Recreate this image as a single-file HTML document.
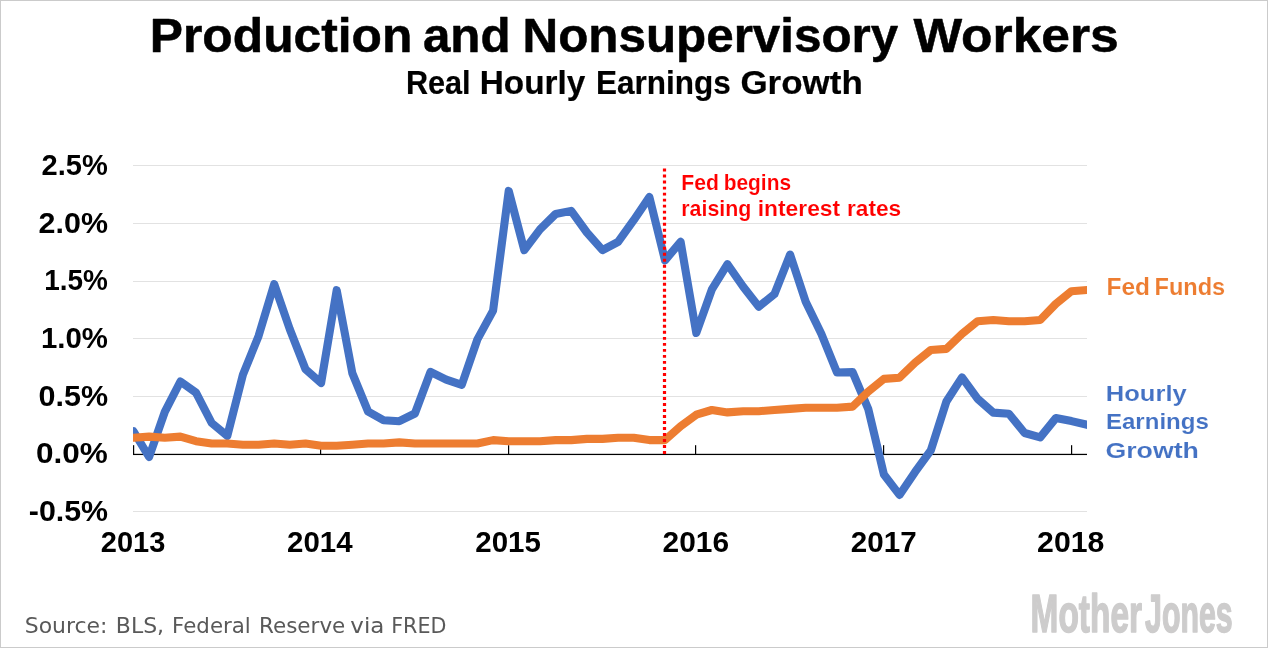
<!DOCTYPE html>
<html lang="en"><head><meta charset="utf-8"><title>Production and Nonsupervisory Workers</title>
<style>
html,body{margin:0;padding:0;background:#fff;}
body{width:1268px;height:648px;overflow:hidden;}
svg{display:block;font-family:"Liberation Sans",sans-serif;}
</style></head><body>
<svg width="1268" height="648" viewBox="0 0 1268 648">
<defs><clipPath id="plot"><rect x="133" y="150" width="954" height="380"/></clipPath></defs>
<rect x="0" y="0" width="1268" height="648" fill="#fff"/>
<rect x="0.5" y="0.5" width="1267" height="647" fill="none" stroke="#cbcbcb" stroke-width="1"/>
<rect x="133" y="165.00" width="954" height="1" fill="#e2e2e2"/><rect x="133" y="223.00" width="954" height="1" fill="#e2e2e2"/><rect x="133" y="281.00" width="954" height="1" fill="#e2e2e2"/><rect x="133" y="338.00" width="954" height="1" fill="#e2e2e2"/><rect x="133" y="396.00" width="954" height="1" fill="#e2e2e2"/><rect x="133" y="511.00" width="954" height="1" fill="#e2e2e2"/>
<rect x="133" y="453.8" width="954" height="1.25" fill="#000"/>
<rect x="133" y="445.2" width="1.2" height="9.5" fill="#000"/><rect x="320" y="445.2" width="1.2" height="9.5" fill="#000"/><rect x="508" y="445.2" width="1.2" height="9.5" fill="#000"/><rect x="695" y="445.2" width="1.2" height="9.5" fill="#000"/><rect x="883" y="445.2" width="1.2" height="9.5" fill="#000"/><rect x="1071" y="445.2" width="1.2" height="9.5" fill="#000"/>
<g clip-path="url(#plot)">
<polyline points="133.5,431.3 149.1,457.0 164.8,411.9 180.4,381.5 196.0,392.6 211.7,423.0 227.3,435.9 242.9,374.8 258.6,335.9 274.2,284.1 289.8,329.3 305.5,369.3 321.1,383.0 336.7,290.2 352.4,373.4 368.0,411.4 383.6,420.3 399.3,421.2 414.9,413.5 430.5,371.9 446.2,379.6 461.8,384.8 477.4,339.4 493.1,310.6 508.7,190.9 524.3,250.1 540.0,229.4 555.6,214.0 571.2,210.9 586.9,232.5 602.5,250.1 618.1,241.8 633.7,220.2 649.4,197.1 665.0,260.3 680.6,241.8 696.3,333.0 711.9,289.4 727.5,264.2 743.2,286.7 758.8,306.7 774.4,294.2 790.1,254.6 805.7,301.7 821.3,333.8 837.0,372.5 852.6,372.1 868.2,408.8 883.9,474.5 899.5,494.9 915.1,471.9 930.8,450.4 946.4,401.5 962.0,377.4 977.7,398.9 993.3,412.6 1008.9,413.7 1024.6,433.0 1040.2,437.4 1055.8,418.1 1071.5,421.1 1087.1,424.8" fill="none" stroke="#4472c4" stroke-width="8.1" stroke-linejoin="round" stroke-linecap="round"/>
<polyline points="133.5,437.7 149.1,436.6 164.8,437.7 180.4,436.6 196.0,441.2 211.7,443.5 227.3,443.5 242.9,444.7 258.6,444.7 274.2,443.5 289.8,444.7 305.5,443.5 321.1,445.8 336.7,445.8 352.4,444.7 368.0,443.5 383.6,443.5 399.3,442.4 414.9,443.5 430.5,443.5 446.2,443.5 461.8,443.5 477.4,443.5 493.1,440.1 508.7,441.2 524.3,441.2 540.0,441.2 555.6,440.1 571.2,440.1 586.9,438.9 602.5,438.9 618.1,437.7 633.7,437.7 649.4,440.1 665.0,440.1 680.6,426.2 696.3,414.7 711.9,410.0 727.5,412.4 743.2,411.2 758.8,411.2 774.4,410.0 790.1,408.9 805.7,407.7 821.3,407.7 837.0,407.7 852.6,406.6 868.2,391.6 883.9,378.9 899.5,377.7 915.1,362.7 930.8,350.0 946.4,348.9 962.0,333.9 977.7,321.2 993.3,320.0 1008.9,321.2 1024.6,321.2 1040.2,320.0 1055.8,303.9 1071.5,291.2 1087.1,290.0" fill="none" stroke="#ed7d31" stroke-width="8.1" stroke-linejoin="round" stroke-linecap="round"/>
</g>
<line x1="664.5" y1="168.6" x2="664.5" y2="454" stroke="#ff0000" stroke-width="3.2" stroke-dasharray="2.95 3.06"/>
<text x="149.83" y="51.5" font-family='"Liberation Sans",sans-serif' font-weight="bold" font-size="47.49" fill="#000" stroke="#000" stroke-width="0.5" stroke-linejoin="round" textLength="262.51" lengthAdjust="spacingAndGlyphs">Production</text>
<text x="422.92" y="51.5" font-family='"Liberation Sans",sans-serif' font-weight="bold" font-size="47.49" fill="#000" stroke="#000" stroke-width="0.5" stroke-linejoin="round" textLength="87.60" lengthAdjust="spacingAndGlyphs">and</text>
<text x="522.58" y="51.5" font-family='"Liberation Sans",sans-serif' font-weight="bold" font-size="47.49" fill="#000" stroke="#000" stroke-width="0.5" stroke-linejoin="round" textLength="375.64" lengthAdjust="spacingAndGlyphs">Nonsupervisory</text>
<text x="913.42" y="51.5" font-family='"Liberation Sans",sans-serif' font-weight="bold" font-size="47.49" fill="#000" stroke="#000" stroke-width="0.5" stroke-linejoin="round" textLength="205.33" lengthAdjust="spacingAndGlyphs">Workers</text>
<text x="405.92" y="93.9" font-family='"Liberation Sans",sans-serif' font-weight="bold" font-size="33.24" fill="#000" stroke="#000" stroke-width="0.2" stroke-linejoin="round" textLength="64.69" lengthAdjust="spacingAndGlyphs">Real</text>
<text x="479.79" y="93.9" font-family='"Liberation Sans",sans-serif' font-weight="bold" font-size="33.24" fill="#000" stroke="#000" stroke-width="0.2" stroke-linejoin="round" textLength="105.59" lengthAdjust="spacingAndGlyphs">Hourly</text>
<text x="596.09" y="93.9" font-family='"Liberation Sans",sans-serif' font-weight="bold" font-size="33.24" fill="#000" stroke="#000" stroke-width="0.2" stroke-linejoin="round" textLength="134.73" lengthAdjust="spacingAndGlyphs">Earnings</text>
<text x="740.43" y="93.9" font-family='"Liberation Sans",sans-serif' font-weight="bold" font-size="33.24" fill="#000" stroke="#000" stroke-width="0.2" stroke-linejoin="round" textLength="122.35" lengthAdjust="spacingAndGlyphs">Growth</text>
<text x="41.64" y="174.9" font-family='"Liberation Sans",sans-serif' font-weight="bold" font-size="28.79" fill="#000" textLength="66.26" lengthAdjust="spacingAndGlyphs">2.5%</text>
<text x="38.64" y="232.6" font-family='"Liberation Sans",sans-serif' font-weight="bold" font-size="28.79" fill="#000" textLength="69.31" lengthAdjust="spacingAndGlyphs">2.0%</text>
<text x="44.24" y="290.3" font-family='"Liberation Sans",sans-serif' font-weight="bold" font-size="28.79" fill="#000" textLength="63.64" lengthAdjust="spacingAndGlyphs">1.5%</text>
<text x="41.00" y="348.0" font-family='"Liberation Sans",sans-serif' font-weight="bold" font-size="28.79" fill="#000" textLength="66.93" lengthAdjust="spacingAndGlyphs">1.0%</text>
<text x="38.55" y="405.7" font-family='"Liberation Sans",sans-serif' font-weight="bold" font-size="28.79" fill="#000" textLength="69.54" lengthAdjust="spacingAndGlyphs">0.5%</text>
<text x="36.03" y="463.4" font-family='"Liberation Sans",sans-serif' font-weight="bold" font-size="28.79" fill="#000" textLength="71.85" lengthAdjust="spacingAndGlyphs">0.0%</text>
<text x="28.79" y="521.1" font-family='"Liberation Sans",sans-serif' font-weight="bold" font-size="28.79" fill="#000" textLength="79.27" lengthAdjust="spacingAndGlyphs">-0.5%</text>
<text x="100.84" y="551.9" font-family='"Liberation Sans",sans-serif' font-weight="bold" font-size="28.79" fill="#000" textLength="64.52" lengthAdjust="spacingAndGlyphs">2013</text>
<text x="287.11" y="551.9" font-family='"Liberation Sans",sans-serif' font-weight="bold" font-size="28.79" fill="#000" textLength="65.48" lengthAdjust="spacingAndGlyphs">2014</text>
<text x="475.31" y="551.9" font-family='"Liberation Sans",sans-serif' font-weight="bold" font-size="28.79" fill="#000" textLength="65.52" lengthAdjust="spacingAndGlyphs">2015</text>
<text x="662.61" y="551.9" font-family='"Liberation Sans",sans-serif' font-weight="bold" font-size="28.79" fill="#000" textLength="66.46" lengthAdjust="spacingAndGlyphs">2016</text>
<text x="850.82" y="551.9" font-family='"Liberation Sans",sans-serif' font-weight="bold" font-size="28.79" fill="#000" textLength="65.81" lengthAdjust="spacingAndGlyphs">2017</text>
<text x="1037.08" y="551.9" font-family='"Liberation Sans",sans-serif' font-weight="bold" font-size="28.79" fill="#000" textLength="67.23" lengthAdjust="spacingAndGlyphs">2018</text>
<text x="681.28" y="189.9" font-family='"Liberation Sans",sans-serif' font-weight="bold" font-size="21.65" fill="#ff0000" stroke="#ffffff" stroke-width="0.12" textLength="37.63" lengthAdjust="spacingAndGlyphs">Fed</text>
<text x="723.68" y="189.9" font-family='"Liberation Sans",sans-serif' font-weight="bold" font-size="21.65" fill="#ff0000" stroke="#ffffff" stroke-width="0.12" textLength="67.38" lengthAdjust="spacingAndGlyphs">begins</text>
<text x="681.27" y="216.1" font-family='"Liberation Sans",sans-serif' font-weight="bold" font-size="21.65" fill="#ff0000" stroke="#ffffff" stroke-width="0.12" textLength="70.12" lengthAdjust="spacingAndGlyphs">raising</text>
<text x="757.74" y="216.1" font-family='"Liberation Sans",sans-serif' font-weight="bold" font-size="21.65" fill="#ff0000" stroke="#ffffff" stroke-width="0.12" textLength="82.36" lengthAdjust="spacingAndGlyphs">interest</text>
<text x="846.98" y="216.1" font-family='"Liberation Sans",sans-serif' font-weight="bold" font-size="21.65" fill="#ff0000" stroke="#ffffff" stroke-width="0.12" textLength="54.24" lengthAdjust="spacingAndGlyphs">rates</text>
<text x="1106.50" y="294.9" font-family='"Liberation Sans",sans-serif' font-weight="bold" font-size="23.18" fill="#ed7d31" stroke="#ffffff" stroke-width="0.10" textLength="43.46" lengthAdjust="spacingAndGlyphs">Fed</text>
<text x="1154.54" y="294.9" font-family='"Liberation Sans",sans-serif' font-weight="bold" font-size="23.18" fill="#ed7d31" stroke="#ffffff" stroke-width="0.10" textLength="70.65" lengthAdjust="spacingAndGlyphs">Funds</text>
<text x="1105.85" y="401.0" font-family='"Liberation Sans",sans-serif' font-weight="bold" font-size="22.91" fill="#4472c4" stroke="#ffffff" stroke-width="0.10" textLength="80.82" lengthAdjust="spacingAndGlyphs">Hourly</text>
<text x="1105.94" y="429.2" font-family='"Liberation Sans",sans-serif' font-weight="bold" font-size="22.91" fill="#4472c4" stroke="#ffffff" stroke-width="0.10" textLength="102.88" lengthAdjust="spacingAndGlyphs">Earnings</text>
<text x="1105.46" y="457.9" font-family='"Liberation Sans",sans-serif' font-weight="bold" font-size="22.91" fill="#4472c4" stroke="#ffffff" stroke-width="0.10" textLength="93.46" lengthAdjust="spacingAndGlyphs">Growth</text>
<text x="24.69" y="632.9" font-family='"DejaVu Sans","Liberation Sans",sans-serif' font-weight="normal" font-size="20.44" fill="#595959" textLength="82.83" lengthAdjust="spacingAndGlyphs">Source:</text>
<text x="115.80" y="632.9" font-family='"DejaVu Sans","Liberation Sans",sans-serif' font-weight="normal" font-size="20.44" fill="#595959" textLength="48.33" lengthAdjust="spacingAndGlyphs">BLS,</text>
<text x="172.10" y="632.9" font-family='"DejaVu Sans","Liberation Sans",sans-serif' font-weight="normal" font-size="20.44" fill="#595959" textLength="78.71" lengthAdjust="spacingAndGlyphs">Federal</text>
<text x="259.03" y="632.9" font-family='"DejaVu Sans","Liberation Sans",sans-serif' font-weight="normal" font-size="20.44" fill="#595959" textLength="86.33" lengthAdjust="spacingAndGlyphs">Reserve</text>
<text x="350.39" y="632.9" font-family='"DejaVu Sans","Liberation Sans",sans-serif' font-weight="normal" font-size="20.44" fill="#595959" textLength="34.03" lengthAdjust="spacingAndGlyphs">via</text>
<text x="391.18" y="632.9" font-family='"DejaVu Sans","Liberation Sans",sans-serif' font-weight="normal" font-size="20.44" fill="#595959" textLength="55.37" lengthAdjust="spacingAndGlyphs">FRED</text>
<text x="1030.57" y="632.0" font-family='"Liberation Sans",sans-serif' font-weight="bold" font-size="54.47" fill="#cdcccc" stroke="#cdcccc" stroke-width="1.6" stroke-linejoin="round" textLength="111.41" lengthAdjust="spacingAndGlyphs">Mother</text>
<text x="1145.11" y="632.0" font-family='"Liberation Sans",sans-serif' font-weight="bold" font-size="54.47" fill="#cdcccc" stroke="#cdcccc" stroke-width="1.6" stroke-linejoin="round" textLength="87.59" lengthAdjust="spacingAndGlyphs">Jones</text>
</svg>
</body></html>
